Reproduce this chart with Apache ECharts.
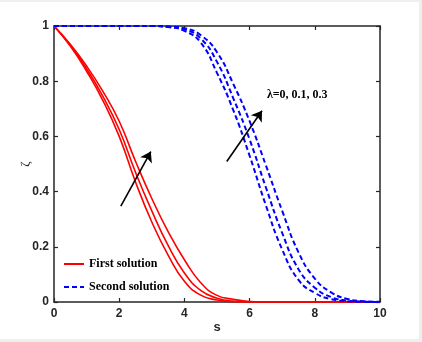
<!DOCTYPE html>
<html>
<head>
<meta charset="utf-8">
<script src="https://cdn.jsdelivr.net/npm/echarts@6/dist/echarts.min.js"></script>
<style>
html,body{margin:0;padding:0;background:#efefef;}
#wrap{position:absolute;left:0;top:0;width:422px;height:342px;background:#efefef;}
#chart{position:absolute;left:0;top:2px;width:419px;height:337px;background:#ffffff;}
</style>
</head>
<body>
<div id="wrap"><div id="chart"></div></div>
<script>
// s grid
const sVals = [0,0.5,1,1.5,2,2.5,3,3.5,4,4.5,5,5.5,6,6.5,7,7.5,8,8.5,9,9.5,10];
// First solution (lambda = 0, 0.1, 0.3)
const first0  = [1,0.927,0.836,0.73,0.6,0.435,0.29,0.17,0.075,0.025,0.007,0.001,0,0,0,0,0,0,0,0,0];
const first01 = [1,0.93,0.845,0.745,0.625,0.47,0.33,0.205,0.105,0.042,0.014,0.003,0.0005,0,0,0,0,0,0,0,0];
const first03 = [1,0.934,0.855,0.763,0.655,0.51,0.375,0.255,0.153,0.07,0.024,0.01,0.002,0.0003,0,0,0,0,0,0,0];
// Second solution (lambda = 0, 0.1, 0.3)
const second0  = [1,1,1,1,1,1,1,0.996,0.982,0.94,0.83,0.695,0.53,0.35,0.19,0.08,0.033,0.01,0.003,0.0005,0];
const second01 = [1,1,1,1,1,1,1,0.997,0.988,0.955,0.87,0.738,0.589,0.415,0.25,0.119,0.052,0.018,0.005,0.001,0];
const second03 = [1,1,1,1,1,1,1,0.998,0.992,0.967,0.905,0.79,0.655,0.495,0.33,0.18,0.085,0.035,0.011,0.003,0.0008];
// tick labels
const xTicks = [0,2,4,6,8,10];
const yTicks = [0,0.2,0.4,0.6,0.8,1];
// annotations (data coordinates)
const arrow1 = [[2.05,0.347],[2.97,0.545]];
const arrow2 = [[5.30,0.509],[6.38,0.693]];
const lambdaLabel = 'λ=0, 0.1, 0.3';
const lambdaPos = [6.53,0.752];

const pairs = v => sVals.map((s,i)=>[s,v[i]]);
const axisColor = '#262626';
const labelFont = {color:axisColor,fontSize:12,fontWeight:'bold',fontFamily:'Liberation Sans, Arial, sans-serif'};

function redSeries(v){
  return {type:'line',name:'First solution',data:pairs(v),showSymbol:false,symbol:'none',
    smooth:0.5,lineStyle:{color:'#ff0000',width:1.6},itemStyle:{color:'#ff0000'},z:2};
}
function blueSeries(v){
  return {type:'line',name:'Second solution',data:pairs(v),showSymbol:false,symbol:'none',
    smooth:0.5,lineStyle:{color:'#0000ff',width:2,type:[5,3]},itemStyle:{color:'#0000ff'},z:3};
}

const chart = echarts.init(document.getElementById('chart'),null,{renderer:'canvas'});
const option = {
  animation:false,
  backgroundColor:'#ffffff',
  grid:{left:54,top:24,width:326,height:277,containLabel:false},
  legend:{
    data:['First solution','Second solution'],
    orient:'vertical',left:58,top:251,itemWidth:20,itemHeight:12,itemGap:11,
    itemStyle:{opacity:0},
    textStyle:{fontFamily:'Liberation Serif, Times New Roman, serif',fontWeight:'bold',fontSize:12,color:'#000'},
    selectedMode:false
  },
  xAxis:[{
    type:'value',min:0,max:10,interval:2,
    name:'s',nameLocation:'middle',nameGap:19,nameMoveOverlap:false,
    nameTextStyle:{color:axisColor,fontSize:13,fontWeight:'bold',fontFamily:'Liberation Sans, Arial, sans-serif'},
    axisLine:{onZero:false,lineStyle:{color:axisColor,width:1.5}},
    axisTick:{inside:true,length:4,lineStyle:{color:axisColor,width:1.2}},
    axisLabel:Object.assign({margin:6,formatter:v=>xTicks.includes(v)?String(v):''},labelFont),
    splitLine:{show:false}
  },{
    type:'value',position:'top',min:0,max:10,interval:2,
    axisLine:{onZero:false,lineStyle:{color:axisColor,width:1.5}},
    axisTick:{inside:true,length:4,lineStyle:{color:axisColor,width:1.2}},
    axisLabel:{show:false},splitLine:{show:false}
  }],
  yAxis:[{
    type:'value',min:0,max:1,interval:0.2,
    name:'ζ',nameLocation:'middle',nameGap:22,nameRotate:90,nameMoveOverlap:false,
    nameTextStyle:{color:axisColor,fontSize:13,fontFamily:'Liberation Serif, serif'},
    axisLine:{onZero:false,lineStyle:{color:axisColor,width:1.5}},
    axisTick:{inside:true,length:4,lineStyle:{color:axisColor,width:1.2}},
    axisLabel:Object.assign({margin:5,formatter:v=>{const t=yTicks.find(x=>Math.abs(x-v)<1e-9);return t===undefined?'':String(t);}},labelFont),
    splitLine:{show:false}
  },{
    type:'value',position:'right',min:0,max:1,interval:0.2,
    axisLine:{onZero:false,lineStyle:{color:axisColor,width:1.5}},
    axisTick:{inside:true,length:4,lineStyle:{color:axisColor,width:1.2}},
    axisLabel:{show:false},splitLine:{show:false}
  }],
  series:[
    redSeries(first0),redSeries(first01),redSeries(first03),
    blueSeries(second0),blueSeries(second01),blueSeries(second03),
    {
      type:'line',name:'annot',data:[],silent:true,z:5,
      markLine:{
        silent:true,symbol:['none','arrow'],symbolSize:10,
        lineStyle:{color:'#000',width:1.6,type:'solid'},label:{show:false},
        data:[
          [{coord:arrow1[0]},{coord:arrow1[1]}],
          [{coord:arrow2[0]},{coord:arrow2[1]}]
        ]
      },
      markPoint:{
        silent:true,symbol:'circle',symbolSize:0,
        label:{show:true,position:'right',distance:0,formatter:lambdaLabel,
          fontFamily:'Liberation Serif, Times New Roman, serif',fontWeight:'bold',fontSize:12,color:'#000'},
        data:[{coord:lambdaPos}]
      }
    }
  ]
};
chart.setOption(option);
</script>
</body>
</html>
